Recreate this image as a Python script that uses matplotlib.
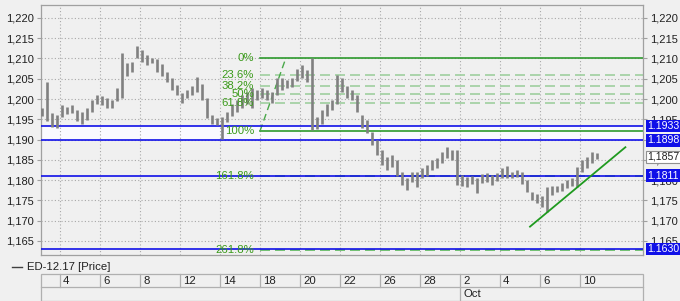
import numpy as np
import matplotlib
matplotlib.use("Agg")
import matplotlib.pyplot as plt
import matplotlib.transforms as mtransforms
from matplotlib.lines import Line2D
from matplotlib.patches import Rectangle

plt.rcParams['font.family'] = ['Liberation Sans', 'DejaVu Sans']

# ---------------- data ----------------
# Intraday bars (4 per trading day), trading-day index starts at bar_start
bar_start = -0.9
bar_step = 0.25
highs = [1.1979, 1.2043, 1.1966, 1.1961, 1.1984, 1.1981, 1.1986, 1.1974, 1.1969, 1.1979,
         1.1998, 1.2011, 1.2008, 1.2003, 1.1998, 1.2028, 1.2114, 1.2089, 1.2092, 1.2132,
         1.2122, 1.2109, 1.2102, 1.2099, 1.2087, 1.2067, 1.2052, 1.2035, 1.2016, 1.2023,
         1.2033, 1.2055, 1.2038, 1.2003, 1.1961, 1.1954, 1.1956, 1.1969, 1.1988, 1.1998,
         1.2011, 1.2018, 1.2028, 1.2023, 1.2028, 1.2021, 1.2018, 1.2053, 1.2053, 1.2048,
         1.2053, 1.2075, 1.2085, 1.2072, 1.2102, 1.1956, 1.1974, 1.1988, 1.1998, 1.2060,
         1.2053, 1.2033, 1.2023, 1.2011, 1.1961, 1.1949, 1.1919, 1.1899, 1.1875, 1.1857,
         1.1862, 1.1850, 1.1820, 1.1805, 1.1820, 1.1820, 1.1830, 1.1838, 1.1850, 1.1855,
         1.1870, 1.1882, 1.1875, 1.1875, 1.1813, 1.1808, 1.1810, 1.1805, 1.1815, 1.1818,
         1.1813, 1.1818, 1.1830, 1.1835, 1.1820, 1.1825, 1.1820, 1.1801, 1.1771, 1.1766,
         1.1761, 1.1783, 1.1786, 1.1786, 1.1793, 1.1801, 1.1805, 1.1833, 1.1850, 1.1857,
         1.1870, 1.1867]
lows = [1.1959, 1.1946, 1.1932, 1.1929, 1.1956, 1.1964, 1.1966, 1.1946, 1.1939, 1.1949,
        1.1969, 1.1988, 1.1984, 1.1979, 1.1979, 1.1996, 1.2003, 1.2057, 1.2067, 1.2102,
        1.2092, 1.2085, 1.2089, 1.2067, 1.2057, 1.2043, 1.2023, 1.2011, 1.1991, 1.2003,
        1.2011, 1.2018, 1.1998, 1.1954, 1.1939, 1.1936, 1.1902, 1.1944, 1.1959, 1.1969,
        1.1979, 1.1988, 1.1979, 1.1998, 1.2003, 1.1998, 1.1991, 1.2011, 1.2023, 1.2028,
        1.2030, 1.2045, 1.2052, 1.2043, 1.1924, 1.1926, 1.1939, 1.1959, 1.1974, 1.1988,
        1.2018, 1.2003, 1.1998, 1.1969, 1.1929, 1.1917, 1.1887, 1.1862, 1.1838, 1.1825,
        1.1833, 1.1811, 1.1788, 1.1776, 1.1796, 1.1783, 1.1805, 1.1811, 1.1825, 1.1830,
        1.1843, 1.1855, 1.1850, 1.1788, 1.1786, 1.1783, 1.1791, 1.1768, 1.1793, 1.1796,
        1.1788, 1.1798, 1.1805, 1.1805, 1.1805, 1.1808, 1.1791, 1.1771, 1.1751, 1.1744,
        1.1734, 1.1722, 1.1764, 1.1771, 1.1774, 1.1781, 1.1786, 1.1783, 1.1820, 1.1830,
        1.1843, 1.1852]

tick_pos = [0, 2, 4, 6, 8, 10, 12, 14, 16, 18, 20, 22, 24, 26]
tick_labels = ["4", "6", "8", "12", "14", "18", "20", "22", "26", "28", "2", "4", "6", "10"]
month_pos = [20]
month_labels = ["Oct"]

y_ticks = [1.165, 1.170, 1.175, 1.180, 1.185, 1.190, 1.195, 1.200, 1.205, 1.210, 1.215, 1.220]

h_levels = [1.1933, 1.1898, 1.1811, 1.1630]
h_labels = ["1.1933", "1.1898", "1.1811", "1.1630"]
last_price = 1.1857
last_label = "1,1857"

fib_high = 1.2102
fib_low = 1.1921
fib_pcts = [0, 23.6, 38.2, 50, 61.8, 100, 161.8, 261.8]
fib_texts = ["0%", "23.6%", "38.2%", "50%", "61.8%", "100%", "161.8%", "261.8%"]
fib_start = 10.0
fib_diag_end = 11.3

trend_x = [23.5, 28.27]
trend_y = [1.1685, 1.1881]

xlim = (-0.95, 29.15)
ylim = (1.1615, 1.2232)

# ---------------- figure ----------------
W, H = 680, 301
FS = 7.6
fig = plt.figure(figsize=(W / 100, H / 100), dpi=100, facecolor='#f0f0f0')
ax = fig.add_axes([41 / W, 1 - 255 / H, (643 - 41) / W, (255 - 5) / H])
ax.set_facecolor('#f0f0f0')
ax.set_xlim(*xlim)
ax.set_ylim(*ylim)

green_dark = '#2e9a2e'
green_txt = '#3a9a1a'
green_light = '#9fcf9f'
blue = '#1010e8'

# grid
ax.set_xticks(tick_pos)
ax.set_yticks(y_ticks)
ax.grid(True, color='#a8a8a8', linestyle=(0, (1, 2)), linewidth=0.8)
ax.set_axisbelow(True)
ax.tick_params(axis='x', length=0, labelbottom=False)
ax.tick_params(axis='y', left=True, right=True, labelleft=True, labelright=True,
               length=3, color='#a0a0a0', labelsize=FS + 0.4, pad=2, labelcolor='#202020')
ax.set_yticklabels([f"{v:.3f}".replace('.', ',') for v in y_ticks])
for s in ax.spines.values():
    s.set_color('#a0a0a0')
    s.set_linewidth(0.9)

# light band between the two upper blue levels
ax.axhspan(h_levels[1], h_levels[0], color='#fafaff', zorder=0.5)

# fib levels
rng = fib_high - fib_low
for p, txt in zip(fib_pcts, fib_texts):
    lvl = fib_high - rng * p / 100.0
    if p in (0, 100):
        ax.plot([fib_start, xlim[1]], [lvl, lvl], color=green_dark, lw=1.2, zorder=2)
    elif p > 100:
        ax.plot([fib_start, xlim[1]], [lvl, lvl], color='#5cb85c', lw=1.2,
                dashes=(6, 3), zorder=2)
    else:
        ax.plot([fib_start, xlim[1]], [lvl, lvl], color=green_light, lw=1.2,
                dashes=(6, 3), zorder=2)
    ax.text(fib_start - 0.3, lvl, txt, color=green_txt, fontsize=FS + 0.6,
            ha='right', va='center', zorder=5)
ax.plot([fib_start, fib_diag_end], [fib_low, fib_high], color='#4aa84a', lw=1.0,
        dashes=(5, 3), zorder=2)

# blue horizontal levels
for lvl in h_levels:
    ax.axhline(lvl, color=blue, lw=1.2, zorder=3)

# price bars
t = bar_start + bar_step * np.arange(len(highs))
ax.vlines(t, lows, highs, color='#808080', lw=1.9, zorder=4)

# trend line
ax.plot(trend_x, trend_y, color='#1f9a1f', lw=1.3, zorder=5)

# right-side value boxes
trans = mtransforms.blended_transform_factory(ax.transAxes, ax.transData)
for lvl, lab in zip(h_levels, h_labels):
    ax.text(1.0075, lvl, lab, transform=trans, color='white', fontsize=FS,
            ha='left', va='center', clip_on=False, zorder=10,
            bbox=dict(boxstyle='square,pad=0.12', fc=blue, ec='none'))
ax.text(1.0075, last_price, last_label, transform=trans, color='#202020', fontsize=FS,
        ha='left', va='center', clip_on=False, zorder=10,
        bbox=dict(boxstyle='square,pad=0.12', fc='white', ec='#909090', lw=0.8))

# legend
fig.add_artist(Line2D([12 / W, 22 / W], [1 - 267 / H, 1 - 267 / H], color='#404040', lw=1))
fig.text(27 / W, 1 - 267 / H, "ED-12.17 [Price]", fontsize=FS + 0.6, va='center', ha='left',
         color='#202020')

# date table below
x0, x1 = 41, 643
ytop, ymid, ybot = 274, 287, 301
fig.add_artist(Rectangle((x0 / W, 1 - ybot / H), (x1 - x0) / W, (ybot - ytop) / H,
                         transform=fig.transFigure, fill=False, ec='#b0b0b0', lw=0.9))
fig.add_artist(Line2D([x0 / W, x1 / W], [1 - ymid / H, 1 - ymid / H], color='#b0b0b0', lw=0.9))


def data_x_to_fig(xd):
    return (41 + (xd - xlim[0]) / (xlim[1] - xlim[0]) * (643 - 41)) / W


for p, lab in zip(tick_pos, tick_labels):
    fx = data_x_to_fig(p)
    fig.add_artist(Line2D([fx, fx], [1 - ytop / H, 1 - ymid / H], color='#b0b0b0', lw=0.9))
    fig.text(fx + 3 / W, 1 - (ytop + ymid) / 2 / H, lab, fontsize=FS + 0.6, va='center',
             ha='left', color='#202020')
for p, lab in zip(month_pos, month_labels):
    fx = data_x_to_fig(p)
    fig.add_artist(Line2D([fx, fx], [1 - ymid / H, 1 - ybot / H], color='#b0b0b0', lw=0.9))
    fig.text(fx + 3 / W, 1 - (ymid + ybot) / 2 / H, lab, fontsize=FS + 0.6, va='center',
             ha='left', color='#202020')

fig.savefig("out.png", dpi=100, facecolor=fig.get_facecolor())
